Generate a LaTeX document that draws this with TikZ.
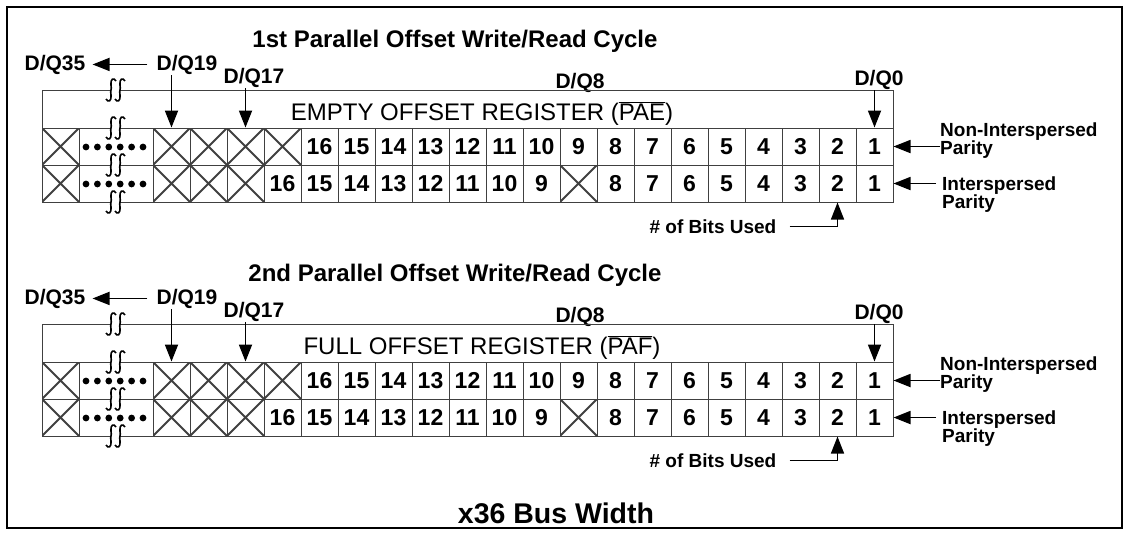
\documentclass[tikz,border=0pt]{standalone}
\usepackage{fontspec}
\setmainfont{Liberation Sans}
\usetikzlibrary{arrows.meta,positioning,calc}
\newcommand{\barsig}[1]{$\overline{\hbox{#1}}$}

\tikzset{
  grid/.style={draw=black!75, line width=1pt},
  cell/.style={grid, minimum width=37pt, minimum height=37pt, inner sep=0pt,
    font=\bfseries\fontsize{23}{23}\selectfont},
  xcell/.style={cell, path picture={\draw[line width=2pt]
      (path picture bounding box.north west) -- (path picture bounding box.south east)
      (path picture bounding box.north east) -- (path picture bounding box.south west);}},
  arr/.style={line width=1.8pt, -{Triangle[length=17pt,width=13pt]}},
  lbl/.style={font=\bfseries\fontsize{21}{21}\selectfont, inner sep=1pt, anchor=base},
  ttl/.style={font=\bfseries\fontsize{24}{24}\selectfont, inner sep=1pt, anchor=base},
  regtxt/.style={font=\fontsize{24}{24}\selectfont, inner sep=1pt, anchor=base},
  side/.style={font=\bfseries\fontsize{19}{18}\selectfont, align=left, inner sep=0pt, anchor=west},
  bits/.style={font=\bfseries\fontsize{19}{19}\selectfont, inner sep=1pt, anchor=base},
  brk/.pic={\foreach \a in {-4.5,4.5}
      \draw[line width=1.6pt] (\a+5,-9) .. controls (\a+3,-13) and (\a-1,-11) .. (\a,-5)
        .. controls (\a+1,0) and (\a-1,0) .. (\a,5)
        .. controls (\a+1,11) and (\a-3,13) .. (\a-5,9);}
}

\begin{document}
\begin{tikzpicture}[x=1pt, y=-1pt]
\useasboundingbox (0,0) rectangle (1129,533);
\draw[line width=2pt] (7,7) rectangle (1122,528);

\foreach \r/\T/\ord/\kind/\flag in {1/0/1st/EMPTY/PAE, 2/234/2nd/FULL/PAF}{
\begin{scope}[shift={(0,\T)}]
  % headings
  \node[ttl] (t\r) at (455,47) {\ord\ Parallel Offset Write/Read Cycle};
  \node[lbl] (q35\r) at (55,70) {D/Q35};
  \node[lbl] (q19\r) at (187,70) {D/Q19};
  \node[lbl] (q17\r) at (254,83) {D/Q17};
  \node[lbl] (q8\r) at (580,88) {D/Q8};
  \node[lbl] (q0\r) at (879,85) {D/Q0};
  \node[regtxt] (rt\r) at (482,120) {\kind\ OFFSET REGISTER (\barsig{\flag})};

  % register outline with breaks
  \foreach \y in {90,128,165,202}{
    \draw[grid] (42,\y) -- (111,\y) (120,\y) -- (893,\y);
    \pic at (115.5,\y) {brk};
  }
  \draw[grid] (42,90) -- (42,128) (893,90) -- (893,128);

  % non-interspersed row
  \foreach \c in {0,3,4,...,22}{
    \pgfmathtruncatemacro\na{23-\c}
    \ifnum\c<7
      \node[xcell] (a\r-\c) at (60.5+37*\c,146.5) {};
    \else
      \node[cell] (a\r-\c) at (60.5+37*\c,146.5) {\na};
    \fi
  }
  % interspersed row
  \foreach \c in {0,3,4,...,22}{
    \pgfmathtruncatemacro\nb{\c<14 ? 22-\c : 23-\c}
    \pgfmathtruncatemacro\isx{(\c<6)||(\c==14)}
    \ifnum\isx=1
      \node[xcell] (b\r-\c) at (60.5+37*\c,183.5) {};
    \else
      \node[cell] (b\r-\c) at (60.5+37*\c,183.5) {\nb};
    \fi
  }
  \foreach \yy in {147,184}
    \foreach \k in {0,...,5}
      \fill (86+11.4*\k,\yy) circle (3.4pt);

  % arrows
  \draw[arr] (q19\r.south -| a\r-3.north) -- (a\r-3.north);
  \draw[arr] (q17\r.south -| a\r-5.north) -- (a\r-5.north);
  \draw[arr] (q0\r.south -| a\r-22.north) -- (a\r-22.north);
  \draw[arr, shorten <=8pt, shorten >=6pt] (q19\r.west) -- (q35\r.east);

  \node[side] (np\r) at (940,141) {Non-Interspersed\\Parity};
  \node[side] (ip\r) at (942,195) {Interspersed\\Parity};
  \draw[arr] (np\r.west |- a\r-22.east) -- (a\r-22.east);
  \draw[arr, shorten <=6pt] (ip\r.west |- b\r-22.east) -- (b\r-22.east);

  \node[bits] (bits\r) at (713,233) {\# of Bits Used};
  \draw[arr, line width=1.4pt, shorten <=12pt] (bits\r.east) -| (b\r-21.south);
\end{scope}
}

\node[font=\bfseries\fontsize{28.5}{28.5}\selectfont, anchor=base] (bus) at (556,523) {x36 Bus Width};
\end{tikzpicture}
\end{document}
